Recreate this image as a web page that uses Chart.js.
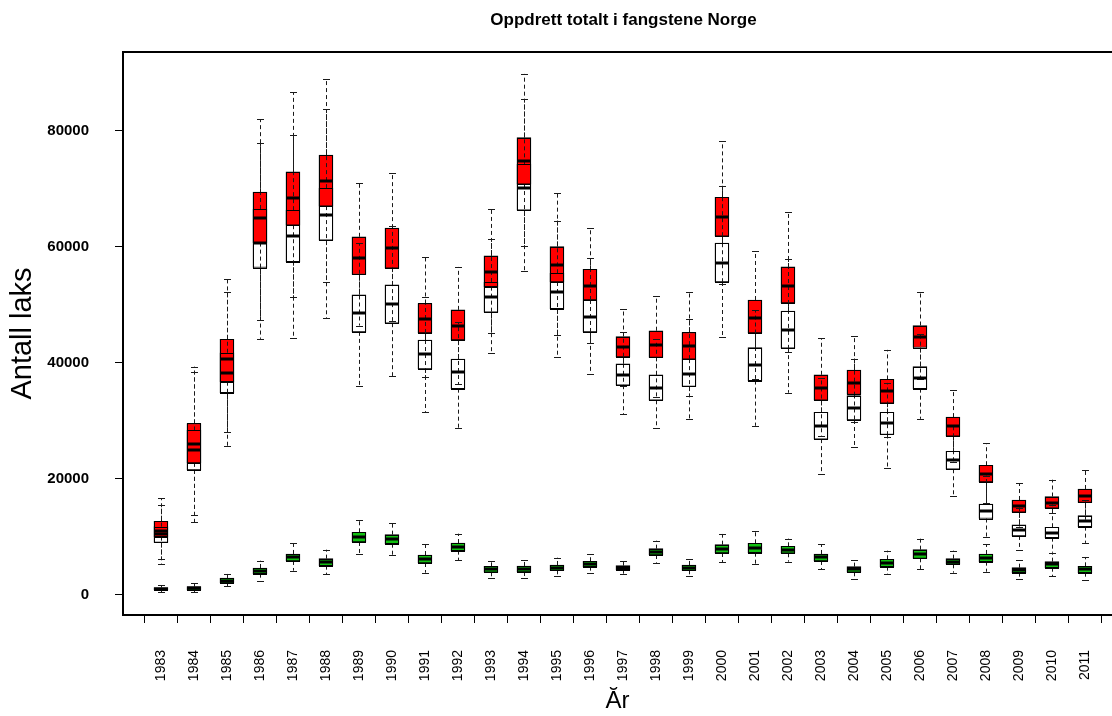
<!DOCTYPE html>
<html>
<head>
<meta charset="utf-8">
<title>Oppdrett totalt i fangstene Norge</title>
<script src="https://cdn.jsdelivr.net/npm/chart.js@4.4.0/dist/chart.umd.min.js"></script>
<style>
  html, body { margin: 0; padding: 0; background: #fff; }
  #wrap { width: 1112px; height: 716px; position: relative; }
</style>
</head>
<body>
<div id="wrap"><canvas id="boxChart"></canvas></div>
<script>
// ---------- Data ----------
const years = [1983, 1984, 1985, 1986, 1987, 1988, 1989, 1990, 1991, 1992, 1993, 1994, 1995, 1996, 1997,
  1998, 1999, 2000, 2001, 2002, 2003, 2004, 2005, 2006, 2007, 2008, 2009, 2010, 2011];
const yTicks = [0, 20000, 40000, 60000, 80000];

// red boxes
const redMin = [6100, 13700, 28000, 47400, 51300, 53900, 46400, 47200, 37600, 36300, 45100, 60200, 44700, 43400, 36000,
  34000, 34300, 53600, 37200, 41800, 27400, 29700, 27200, 37100, 22900, 15800, 11700, 14100, 12900];
const redQ1 = [9970, 22700, 36700, 60700, 63700, 67000, 55200, 56300, 45100, 43900, 53100, 70800, 53900, 50800, 41000,
  40900, 40600, 61800, 45100, 50300, 33500, 34500, 33000, 42600, 27300, 19400, 14200, 14900, 15900];
const redMed = [11000, 25900, 40600, 64900, 68450, 71300, 58100, 59700, 47600, 46400, 55600, 74800, 56900, 53300, 42700,
  43100, 42800, 65100, 47700, 53200, 35600, 36500, 35100, 44500, 29100, 20800, 15300, 15800, 17000];
const redQ3 = [12630, 29500, 44000, 69400, 72900, 75800, 61700, 63200, 50200, 49100, 58400, 78800, 60000, 56100, 44500,
  45500, 45200, 68500, 50800, 56500, 37900, 38700, 37100, 46400, 30600, 22300, 16300, 16900, 18200];
const redMax = [16600, 39300, 54400, 82000, 86600, 88900, 70900, 72700, 58200, 56500, 66500, 89800, 69300, 63300, 49300,
  51500, 52100, 78200, 59200, 65900, 44200, 44600, 42200, 52100, 35300, 26100, 19200, 19800, 21400];

// white boxes
const whiteMin = [5300, 12500, 25600, 44100, 44200, 47700, 35900, 37700, 31500, 28700, 41600, 55800, 41000, 38100, 31100,
  28700, 30200, 44400, 29100, 34800, 20800, 25400, 21800, 30300, 17000, 9970, 7700, 7200, 8900];
const whiteQ1 = [9000, 21500, 34800, 56400, 57400, 61100, 45300, 46800, 38900, 35500, 48700, 66300, 49300, 45300, 36100,
  33500, 35900, 53900, 36900, 42500, 26800, 30100, 27600, 35500, 21600, 13100, 10100, 9800, 11700];
const whiteMed = [10450, 24900, 38200, 60600, 61900, 65500, 48500, 50100, 41400, 38300, 51300, 70200, 52100, 47900, 37900,
  35700, 38100, 57100, 39600, 45600, 29100, 32100, 29500, 37400, 23200, 14400, 11100, 10600, 12700];
const whiteQ3 = [11700, 28300, 41700, 66500, 66300, 70100, 51700, 53400, 43900, 40600, 53900, 74200, 55400, 50800, 39800,
  37900, 40600, 60600, 42600, 48900, 31400, 34300, 31400, 39300, 24700, 15600, 12000, 11600, 13600];
const whiteMax = [15400, 38300, 52100, 77800, 79300, 83700, 60600, 63600, 51300, 47000, 61400, 85400, 64500, 58000, 45200,
  44000, 47500, 70500, 49000, 57800, 37400, 40700, 36500, 44900, 29300, 20500, 15000, 15500, 16250];

// green boxes
const greenMin = [400, 430, 1470, 2380, 4110, 3480, 6930, 6760, 3760, 5950, 2790, 2790, 3140, 3760, 3480,
  5490, 3140, 5550, 5260, 5660, 4350, 2620, 3480, 4400, 3760, 3930, 2670, 3190, 2560];
const greenQ1 = [800, 800, 2000, 3590, 5780, 4970, 9060, 8760, 5430, 7560, 3830, 3880, 4170, 4800, 4280,
  6810, 4170, 7160, 7210, 7110, 5780, 3830, 4800, 6240, 5210, 5660, 3760, 4620, 3760];
const greenMed = [1000, 1100, 2400, 4110, 6420, 5610, 9920, 9630, 6180, 8190, 4400, 4400, 4620, 5260, 4620,
  7380, 4620, 7900, 8070, 7730, 6420, 4350, 5380, 6990, 5660, 6350, 4170, 5210, 4400];
const greenQ3 = [1200, 1350, 2850, 4570, 6990, 6180, 10730, 10320, 6810, 8880, 4860, 4920, 5090, 5730, 4970,
  7900, 5090, 8590, 8830, 8310, 6990, 4800, 6070, 7730, 6180, 6990, 4620, 5660, 4860];
const greenMax = [1600, 1930, 3540, 5830, 8830, 7730, 12900, 12280, 8710, 10490, 5830, 6000, 6350, 6930, 5830,
  9280, 6180, 10440, 10900, 9630, 8660, 6000, 7560, 9630, 7560, 8710, 5900, 7160, 6470];

// ---------- Series ----------
const series = [
  { name: 'Rød', fill: '#ff0000', order: 2, min: redMin, q1: redQ1, med: redMed, q3: redQ3, max: redMax },
  { name: 'Hvit', fill: '#ffffff', order: 3, min: whiteMin, q1: whiteQ1, med: whiteMed, q3: whiteQ3, max: whiteMax },
  { name: 'Grønn', fill: '#11c011', order: 1, min: greenMin, q1: greenQ1, med: greenMed, q3: greenQ3, max: greenMax }
];

const BOX_W = 14;
const CAP_W = 7;

Chart.defaults.font.family = '"Liberation Sans", Arial, Helvetica, sans-serif';
Chart.defaults.color = '#000';

// whiskers, outlines and medians on top of the bar bodies
const boxDetails = {
  id: 'boxDetails',
  afterDatasetsDraw(chart) {
    const { ctx, scales: { x, y } } = chart;
    const seg = (x1, y1, x2, y2) => { ctx.beginPath(); ctx.moveTo(x1, y1); ctx.lineTo(x2, y2); ctx.stroke(); };
    ctx.save();

    // dashed whiskers + caps
    ctx.strokeStyle = '#1a1a1a';
    ctx.lineWidth = 1;
    series.forEach(s => {
      years.forEach((yr, i) => {
        const px = Math.round(x.getPixelForValue(yr)) + 0.5;
        ctx.setLineDash([4, 3]);
        seg(px, y.getPixelForValue(s.q3[i]), px, y.getPixelForValue(s.max[i]));
        seg(px, y.getPixelForValue(s.q1[i]), px, y.getPixelForValue(s.min[i]));
        ctx.setLineDash([]);
        const yMax = Math.round(y.getPixelForValue(s.max[i])) + 0.5;
        const yMin = Math.round(y.getPixelForValue(s.min[i])) + 0.5;
        seg(px - CAP_W / 2, yMax, px + CAP_W / 2, yMax);
        seg(px - CAP_W / 2, yMin, px + CAP_W / 2, yMin);
      });
    });

    // box outlines again, so the white edges show through the red fill
    ctx.strokeStyle = '#000';
    ctx.lineWidth = 1;
    series.forEach(s => {
      years.forEach((yr, i) => {
        const px = Math.round(x.getPixelForValue(yr));
        const top = Math.round(y.getPixelForValue(s.q3[i]));
        const bot = Math.round(y.getPixelForValue(s.q1[i]));
        ctx.strokeRect(px - BOX_W / 2 + 0.5, top + 0.5, BOX_W - 1, bot - top);
      });
    });

    // medians
    ctx.lineWidth = 3;
    series.forEach(s => {
      years.forEach((yr, i) => {
        const px = Math.round(x.getPixelForValue(yr));
        const py = Math.round(y.getPixelForValue(s.med[i]));
        seg(px - BOX_W / 2, py, px + BOX_W / 2, py);
      });
    });
    ctx.restore();
  },
  afterDraw(chart) {
    const { ctx, chartArea } = chart;
    ctx.save();
    // top frame line
    ctx.strokeStyle = '#000';
    ctx.lineWidth = 2;
    ctx.beginPath();
    ctx.moveTo(chartArea.left - 1, chartArea.top);
    ctx.lineTo(chartArea.right, chartArea.top);
    ctx.stroke();
    // title
    ctx.fillStyle = '#000';
    ctx.font = 'bold 17px "Liberation Sans", Arial, sans-serif';
    ctx.textAlign = 'center';
    ctx.textBaseline = 'alphabetic';
    ctx.fillText('Oppdrett totalt i fangstene Norge', (chartArea.left + chartArea.right) / 2 + 6, 25);
    ctx.restore();
  }
};

// ---------- Chart ----------
const datasets = series.map(s => ({
  label: s.name,
  data: years.map((yr, i) => ({ x: yr, y: [s.q1[i], s.q3[i]] })),
  backgroundColor: s.fill,
  borderColor: '#000',
  borderWidth: 1,
  borderSkipped: false,
  barThickness: BOX_W,
  grouped: false,
  order: s.order
}));

new Chart(document.getElementById('boxChart'), {
  type: 'bar',
  data: { datasets },
  options: {
    responsive: true,
    maintainAspectRatio: false,
    animation: false,
    devicePixelRatio: 1,
    layout: { padding: { top: 52, left: 0, right: 0, bottom: 0 } },
    plugins: { legend: { display: false }, tooltip: { enabled: false }, title: { display: false } },
    scales: {
      x: {
        type: 'linear',
        min: 1981.85,
        max: 2011.82,
        offset: false,
        afterBuildTicks: s => { s.ticks = years.map(v => ({ value: v })); },
        afterFit: s => { s.height = 101; s.paddingLeft = 0; s.paddingRight = 0; },
        grid: { drawOnChartArea: false, drawTicks: true, tickLength: 8, color: '#000', lineWidth: 1 },
        border: { display: true, color: '#000', width: 2 },
        ticks: {
          autoSkip: false, minRotation: 90, maxRotation: 90, padding: 27,
          font: { size: 14 }, callback: v => String(v)
        },
        title: { display: true, text: 'Ăr', font: { size: 24 }, padding: { top: 0, bottom: 0 } }
      },
      y: {
        min: -3540,
        max: 93580,
        afterBuildTicks: s => { s.ticks = yTicks.map(v => ({ value: v })); },
        afterFit: s => { s.width = 123; s.paddingTop = 0; s.paddingBottom = 0; },
        grid: { drawOnChartArea: false, drawTicks: true, tickLength: 8, color: '#000', lineWidth: 1 },
        border: { display: true, color: '#000', width: 2 },
        ticks: { padding: 26, font: { size: 15, weight: 'bold' }, callback: v => String(v) },
        title: { display: true, text: 'Antall laks', font: { size: 29 }, padding: { top: 6, bottom: 0 } }
      }
    }
  },
  plugins: [boxDetails]
});
</script>
</body>
</html>
